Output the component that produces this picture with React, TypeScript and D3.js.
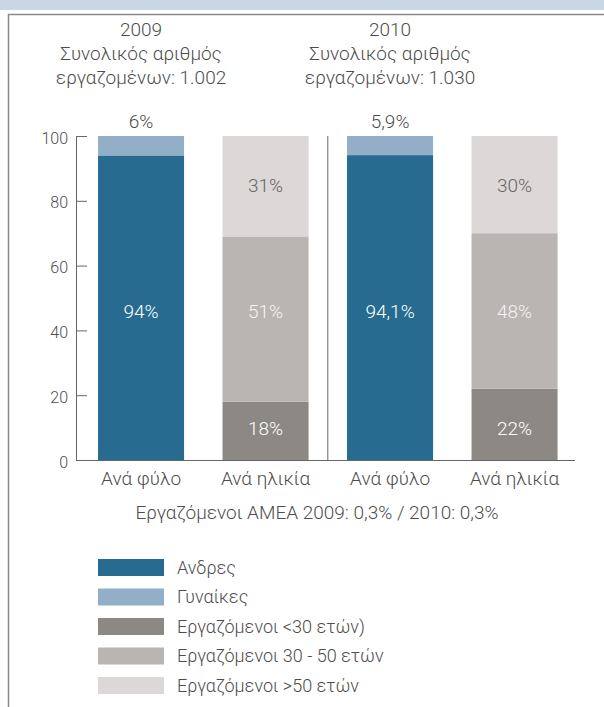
import React from "react";
import * as d3 from "d3";

const years = ["2009", "2010"];
const totals = ["1.002", "1.030"];
const categories = ["Ανά φύλο", "Ανά ηλικία"];
const menValues = [94, 94.1];
const womenValues = [6, 5.9];
const under30Values = [18, 22];
const mid30to50Values = [51, 48];
const over50Values = [31, 30];
const menLabels = ["94%", "94,1%"];
const womenLabels = ["6%", "5,9%"];
const under30Labels = ["18%", "22%"];
const midLabels = ["51%", "48%"];
const over50Labels = ["31%", "30%"];
const yTicks = [0, 20, 40, 60, 80, 100];
const legendLabels = [
  "Ανδρες",
  "Γυναίκες",
  "Εργαζόμενοι <30 ετών)",
  "Εργαζόμενοι 30 - 50 ετών",
  "Εργαζόμενοι >50 ετών",
];
const subtitle = "Εργαζόμενοι ΑΜΕΑ 2009: 0,3% / 2010: 0,3%";

const COLORS = ["#276c90", "#93afc7", "#8c8984", "#b9b5b2", "#dbd8d7"];
const TEXT = "#4d4d4d";
const FONT = "Roboto, 'Liberation Sans', sans-serif";

export default function App() {
  const W = 604;
  const H = 707;
  const y = d3.scaleLinear().domain([0, 100]).range([460, 136]);
  const barKeys = years.flatMap((yr) => categories.map((c) => `${yr}|${c}`));
  const x = d3
    .scaleBand<string>()
    .domain(barKeys)
    .range([76, 579.6])
    .paddingInner(0.309)
    .paddingOuter(0.177);
  const bw = x.bandwidth();

  type Seg = { key: string; v0: number; v1: number; color: string; label: string; labelColor: string; row: string };
  const bars: { key: string; segs: Seg[] }[] = [];
  years.forEach((yr, i) => {
    const sexKey = `${yr}|${categories[0]}`;
    bars.push({
      key: sexKey,
      segs: [
        { key: "m", v0: 0, v1: menValues[i], color: COLORS[0], label: menLabels[i], labelColor: "#ffffff", row: "mid" },
        { key: "w", v0: menValues[i], v1: menValues[i] + womenValues[i], color: COLORS[1], label: womenLabels[i], labelColor: TEXT, row: "out" },
      ],
    });
    const ageKey = `${yr}|${categories[1]}`;
    const a = under30Values[i];
    const b = a + mid30to50Values[i];
    bars.push({
      key: ageKey,
      segs: [
        { key: "u", v0: 0, v1: a, color: COLORS[2], label: under30Labels[i], labelColor: "#ffffff", row: "low" },
        { key: "mm", v0: a, v1: b, color: COLORS[3], label: midLabels[i], labelColor: "#f4f4f4", row: "mid" },
        { key: "o", v0: b, v1: Math.min(100, b + over50Values[i]), color: COLORS[4], label: over50Labels[i], labelColor: "#666666", row: "top" },
      ],
    });
  });

  // labels sharing a row are aligned at the mean of their segment centres
  const allSegs = bars.flatMap((b) => b.segs);
  const rowY = d3.rollup(
    allSegs,
    (v) => d3.mean(v, (s) => (y(s.v0) + y(s.v1)) / 2) as number,
    (s) => s.row
  );
  const labelY = (s: Seg) => (s.row === "out" ? y(100) - 8 : (rowY.get(s.row) as number) + 7);

  const dividerX = ((x(barKeys[1]) as number) + bw + (x(barKeys[2]) as number)) / 2;

  return (
    <svg
      width={W}
      height={H}
      style={{ position: "absolute", left: 0, top: 0, background: "#fff" }}
      fontFamily={FONT}
      fontWeight={300}
    >
      <rect x={0} y={0} width={W} height={10} fill="#c9d7e4" />
      <line x1={8} x2={W} y1={14.5} y2={14.5} stroke="#8a8a8a" strokeWidth={1.5} />
      <line x1={8.5} x2={8.5} y1={14} y2={H} stroke="#8a8a8a" strokeWidth={1.5} />

      {years.map((yr, i) => {
        const cx = (x(`${yr}|${categories[0]}`) as number) + bw / 2;
        return (
          <g key={yr} fill={TEXT} fontSize={19} textAnchor="middle">
            <text x={cx} y={36}>{yr}</text>
            <text x={cx} y={60}>Συνολικός αριθμός</text>
            <text x={cx} y={84}>{`εργαζομένων: ${totals[i]}`}</text>
          </g>
        );
      })}

      {bars.map((b) => (
        <g key={b.key}>
          {b.segs.map((s) => (
            <rect key={s.key} x={x(b.key)} y={y(s.v1)} width={bw} height={y(s.v0) - y(s.v1)} fill={s.color} />
          ))}
          {b.segs.map((s) => (
            <text
              key={s.key + "l"}
              x={(x(b.key) as number) + bw / 2}
              y={labelY(s)}
              textAnchor="middle"
              fontSize={19}
              fill={s.labelColor}
            >
              {s.label}
            </text>
          ))}
        </g>
      ))}

      <line x1={dividerX} x2={dividerX} y1={y(100)} y2={y(0)} stroke="#666" strokeWidth={1} />

      <g stroke="#666" strokeWidth={1}>
        <line x1={76.5} x2={76.5} y1={y(100)} y2={y(0)} />
        <line x1={76} x2={575} y1={y(0) + 0.5} y2={y(0) + 0.5} />
        {yTicks.map((t) => (
          <line key={t} x1={76} x2={87} y1={y(t) + 0.5} y2={y(t) + 0.5} />
        ))}
      </g>
      {yTicks.map((t) => (
        <text key={t} x={68} y={y(t) + 7.5} textAnchor="end" fontSize={16} fill={TEXT}>
          {t}
        </text>
      ))}

      {barKeys.map((k) => (
        <text key={k} x={(x(k) as number) + bw / 2} y={485} textAnchor="middle" fontSize={19} fill={TEXT}>
          {k.split("|")[1]}
        </text>
      ))}
      <text x={317} y={519} textAnchor="middle" fontSize={19} fill={TEXT}>
        {subtitle}
      </text>

      {legendLabels.map((l, i) => {
        const cy = 567.5 + i * 29.5;
        return (
          <g key={l}>
            <rect x={98} y={cy - 8.5} width={66} height={17} fill={COLORS[i]} />
            <text x={177} y={cy + 6} fontSize={18} fill={TEXT}>
              {l}
            </text>
          </g>
        );
      })}
    </svg>
  );
}
